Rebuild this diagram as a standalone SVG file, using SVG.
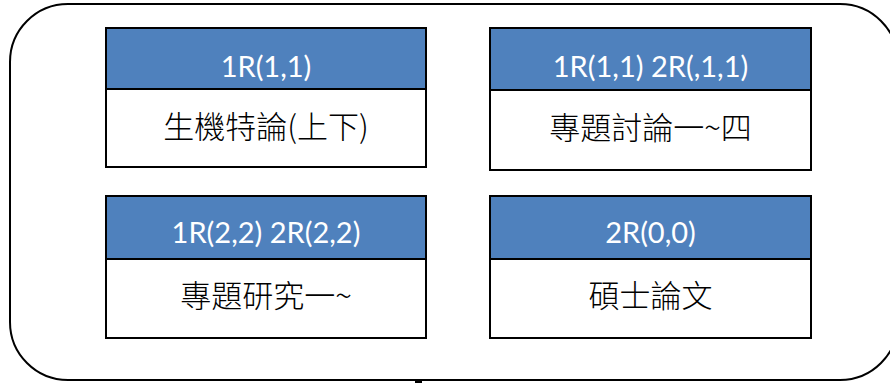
<svg xmlns="http://www.w3.org/2000/svg" width="890" height="383" viewBox="0 0 890 383">
<style>
.outer{fill:#fff;stroke:#000;stroke-width:2}
.hd{fill:#4f81bd;stroke:#000;stroke-width:2}
.bd{fill:#fff;stroke:#000;stroke-width:2}
.ht{font-family:Lato,"Open Sans","Liberation Sans",sans-serif;font-size:29px;fill:#fff;text-anchor:middle}
.bt{font-family:"Noto Sans CJK TC","Noto Sans CJK SC",serif;font-weight:300;font-size:31px;fill:#000;text-anchor:middle}
</style>
<rect class="outer" x="10" y="4" width="888" height="376" rx="58" ry="58"/>
<g id="connectors">
<line x1="418.5" y1="380" x2="418.5" y2="383" stroke="#000" stroke-width="7"/>
</g>
<g id="node1">
<rect class="bd" x="106" y="89" width="320" height="78"/>
<rect class="hd" x="106" y="28" width="320" height="61"/>
<text class="ht" x="266" y="77">1R(1,1)</text>
<text class="bt" x="266" y="138">生機特論(上下)</text>
</g>
<g id="node2">
<rect class="bd" x="490" y="90" width="321" height="80"/>
<rect class="hd" x="490" y="28" width="321" height="62"/>
<text class="ht" x="650.5" y="77">1R(1,1) 2R(,1,1)</text>
<text class="bt" x="650.5" y="139">專題討論一~四</text>
</g>
<g id="node3">
<rect class="bd" x="106" y="259" width="320" height="79"/>
<rect class="hd" x="106" y="196" width="320" height="63"/>
<text class="ht" x="266" y="243">1R(2,2) 2R(2,2)</text>
<text class="bt" x="266" y="307">專題研究一~</text>
</g>
<g id="node4">
<rect class="bd" x="490" y="259" width="321" height="79"/>
<rect class="hd" x="490" y="196" width="321" height="63"/>
<text class="ht" x="650.5" y="243">2R(0,0)</text>
<text class="bt" x="650.5" y="307">碩士論文</text>
</g>
</svg>
